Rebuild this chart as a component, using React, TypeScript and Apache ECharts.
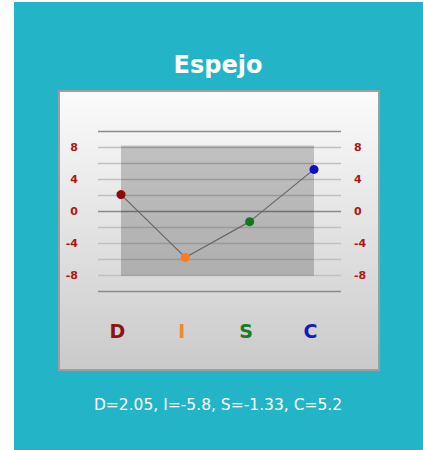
import React, { useEffect, useRef } from "react";
import * as echarts from "echarts";

const TITLE = "Espejo";
const categories = ["D", "I", "S", "C"];
const values = [2.05, -5.8, -1.33, 5.2];
const pointColors = ["#8e0a0a", "#ff7a1a", "#107a18", "#0a10cc"];
const labelColors = ["#8e1414", "#f0892e", "#1e7a24", "#1818c0"];
const tickLabels = [8, 4, 0, -4, -8];
const bandRange = [-8.1, 8.2];
const caption = categories.map((c, i) => `${c}=${values[i]}`).join(", ");

export default function App() {
  const ref = useRef<HTMLDivElement>(null);
  useEffect(() => {
    if (!ref.current) return;
    const chart = echarts.init(ref.current, null, { renderer: "svg" });
    const yLabel = {
      fontSize: 11,
      fontWeight: "bold" as const,
      color: "#b01515",
      fontFamily: "DejaVu Sans",
      formatter: (v: number) => (tickLabels.includes(v) ? String(v) : ""),
    };
    const rich: Record<string, any> = {};
    categories.forEach((c, i) => {
      rich[c] = {
        color: labelColors[i],
        fontSize: 19,
        fontWeight: "bold",
        fontFamily: "DejaVu Sans",
        padding: [0, 7, 0, 0],
      };
    });
    chart.setOption({
      animation: false,
      backgroundColor: "#ffffff",
      graphic: [
        {
          type: "rect",
          z: -20,
          shape: { x: 14, y: 2, width: 409, height: 448 },
          style: { fill: "#23b4c8" },
        },
        {
          type: "rect",
          z: -19,
          shape: { x: 59, y: 91, width: 320, height: 279 },
          style: {
            fill: new echarts.graphic.LinearGradient(0, 0, 0, 1, [
              { offset: 0, color: "#fbfbfb" },
              { offset: 1, color: "#cacaca" },
            ]),
            stroke: "#9e9e9e",
            lineWidth: 2,
          },
        },
        {
          type: "text",
          z: 10,
          x: 218,
          y: 64.5,
          style: {
            text: TITLE,
            fill: "#ffffff",
            font: "bold 24px 'DejaVu Sans'",
            textAlign: "center",
            textVerticalAlign: "middle",
          },
        },
        {
          type: "text",
          z: 10,
          x: 218,
          y: 405,
          style: {
            text: caption,
            fill: "#ffffff",
            font: "15.5px 'DejaVu Sans'",
            textAlign: "center",
            textVerticalAlign: "middle",
          },
        },
      ],
      grid: [
        { left: 98, width: 243, top: 131, height: 160 },
        { left: 121, width: 193, top: 131, height: 160 },
      ],
      xAxis: [
        { type: "value", gridIndex: 0, show: false, min: 0, max: 1 },
        {
          type: "category",
          gridIndex: 1,
          data: categories,
          boundaryGap: false,
          axisLine: { show: false },
          axisTick: { show: false },
          splitLine: { show: false },
          axisLabel: {
            margin: 30,
            formatter: (v: string) => `{${v}|${v}}`,
            rich,
          },
        },
      ],
      yAxis: [
        {
          type: "value",
          gridIndex: 0,
          position: "left",
          min: -10,
          max: 10,
          interval: 2,
          axisLine: { show: false },
          axisTick: { show: false },
          axisLabel: { ...yLabel, margin: 20 },
          splitLine: {
            show: true,
            lineStyle: {
              color: ["#8a8a8a", "#c0c0c0", "#c0c0c0", "#c0c0c0", "#c0c0c0"],
              width: 1.3,
            },
          },
        },
        {
          type: "value",
          gridIndex: 0,
          position: "right",
          min: -10,
          max: 10,
          interval: 2,
          axisLine: { show: false },
          axisTick: { show: false },
          axisLabel: { ...yLabel, margin: 13 },
          splitLine: { show: false },
        },
        {
          type: "value",
          gridIndex: 1,
          min: -10,
          max: 10,
          interval: 2,
          show: false,
          splitLine: { show: false },
        },
      ],
      series: [
        {
          type: "line",
          xAxisIndex: 1,
          yAxisIndex: 2,
          data: values.map((v, i) => ({
            value: v,
            itemStyle: { color: pointColors[i] },
          })),
          symbol: "circle",
          symbolSize: 9,
          lineStyle: { color: "#666666", width: 1.2 },
          itemStyle: { borderWidth: 0 },
          markArea: {
            silent: true,
            itemStyle: { color: "rgba(0,0,0,0.2)" },
            data: [
              [
                { xAxis: categories[0], yAxis: bandRange[0] },
                { xAxis: categories[categories.length - 1], yAxis: bandRange[1] },
              ],
            ],
          },
        },
      ],
    });
    return () => chart.dispose();
  }, []);
  return (
    <div
      ref={ref}
      style={{ position: "absolute", left: 0, top: 0, width: 423, height: 450 }}
    />
  );
}
